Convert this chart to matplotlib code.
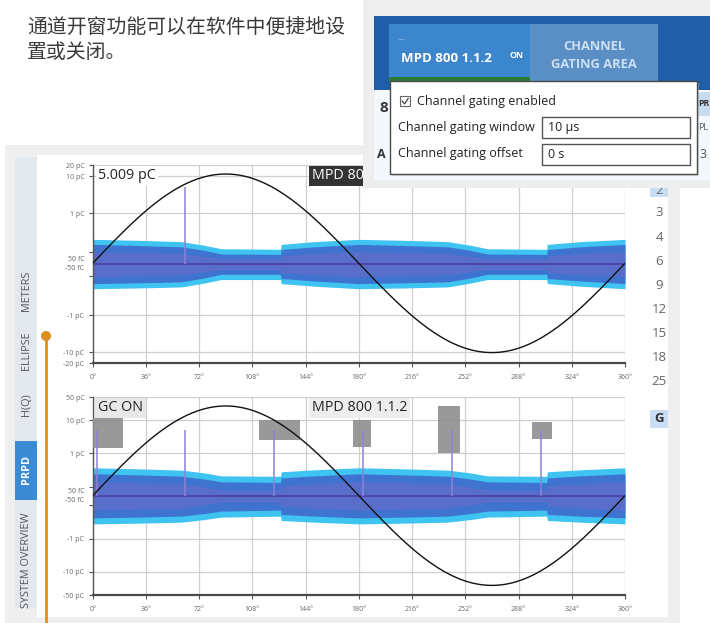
import numpy as np
import matplotlib
matplotlib.use("Agg")
import matplotlib.pyplot as plt
from matplotlib.patches import Rectangle, Circle

W, H = 710, 623

# ---------------- data ----------------
caption_lines = ["通道开窗功能可以在软件中便捷地设", "置或关闭。"]
sidebar_tabs = ["METERS", "ELLIPSE", "H(Q)", "PRPD", "SYSTEM OVERVIEW"]
right_column = ["3", "4", "6", "9", "12", "15", "18", "25"]

phase_ticks = [0, 36, 72, 108, 144, 180, 216, 252, 288, 324, 360]
phase_labels = ["0°", "36°", "72°", "108°", "144°", "180°", "216°", "252°", "288°", "324°", "360°"]

top_yticks = [20, 10, 1, 0.05, -0.05, -1, -10, -20]
top_ylabels = ["20 pC", "10 pC", "1 pC", "50 fC", "-50 fC", "-1 pC", "-10 pC", "-20 pC"]
bot_yticks = [50, 10, 1, 0.05, -0.05, -1, -10, -50]
bot_ylabels = ["50 pC", "10 pC", "1 pC", "50 fC", "-50 fC", "-1 pC", "-10 pC", "-50 pC"]

# noise-band envelopes (pC)
env_phase = [0, 30, 60, 75, 87, 127, 127.5, 150, 180, 210, 240, 255, 267, 307, 307.5, 330, 360]
top_outer_hi = [0.162, 0.150, 0.135, 0.100, 0.071, 0.067, 0.107, 0.135, 0.162, 0.150, 0.135, 0.100, 0.071, 0.067, 0.107, 0.135, 0.162]
top_outer_lo = [-0.159, -0.150, -0.138, -0.100, -0.071, -0.071, -0.104, -0.130, -0.159, -0.150, -0.138, -0.100, -0.071, -0.071, -0.104, -0.130, -0.159]
top_inner_hi = [0.107, 0.097, 0.086, 0.061, 0.039, 0.037, 0.066, 0.086, 0.107, 0.097, 0.086, 0.061, 0.039, 0.037, 0.066, 0.086, 0.107]
top_inner_lo = [-0.104, -0.097, -0.089, -0.061, -0.039, -0.039, -0.064, -0.082, -0.104, -0.097, -0.089, -0.061, -0.039, -0.039, -0.064, -0.082, -0.104]
top_core = [0.051, 0.047, 0.042, 0.028, 0.017, 0.017, 0.030, 0.042, 0.051, 0.047, 0.042, 0.028, 0.017, 0.017, 0.030, 0.042, 0.051]

bot_outer_hi = [0.332, 0.306, 0.275, 0.219, 0.167, 0.160, 0.239, 0.282, 0.332, 0.306, 0.275, 0.219, 0.167, 0.160, 0.239, 0.282, 0.332]
bot_outer_lo = [-0.324, -0.306, -0.282, -0.228, -0.183, -0.167, -0.245, -0.282, -0.324, -0.306, -0.282, -0.228, -0.183, -0.167, -0.245, -0.282, -0.324]
bot_inner_hi = [0.201, 0.183, 0.163, 0.125, 0.092, 0.086, 0.138, 0.167, 0.201, 0.183, 0.163, 0.125, 0.092, 0.086, 0.138, 0.167, 0.201]
bot_inner_lo = [-0.195, -0.183, -0.167, -0.132, -0.102, -0.092, -0.143, -0.167, -0.195, -0.183, -0.167, -0.132, -0.102, -0.092, -0.143, -0.167, -0.195]
bot_core = [0.092, 0.081, 0.072, 0.048, 0.029, 0.029, 0.056, 0.072, 0.092, 0.081, 0.072, 0.048, 0.029, 0.029, 0.056, 0.072, 0.092]

# single PD pulses
top_pulse_phase = [62.6]
top_pulse_q = [5.009]
bot_pulse_phase = [2.7, 62.6, 122.8, 183.0, 242.8, 303.2]
bot_pulse_q = [5.0, 5.0, 5.0, 5.0, 5.0, 5.0]

# channel-gating windows (phase start, phase end, q low, q high)
gate_start = [0.0, 112.7, 175.8, 233.7, 297.1]
gate_end = [20.7, 140.2, 188.3, 248.4, 310.6]
gate_lo = [1.45, 2.56, 1.53, 1.04, 2.74]
gate_hi = [11.8, 10.3, 10.3, 26.9, 8.75]

# reference sine (voltage, normalized)
sine_phase = np.arange(0, 361, 1)
sine_val = np.sin(np.radians(sine_phase))

UI = "Open Sans"
CJK = ["Noto Sans CJK SC", "DejaVu Sans"]

fig = plt.figure(figsize=(W / 100, H / 100), dpi=100)
fig.patch.set_facecolor("white")


def frac(x0, y0, x1, y1):
    return [x0 / W, 1 - y1 / H, (x1 - x0) / W, (y1 - y0) / H]


def px_axes(z):
    a = fig.add_axes([0, 0, 1, 1], zorder=z)
    a.set_xlim(0, W)
    a.set_ylim(H, 0)
    a.axis("off")
    a.patch.set_visible(False)
    return a


# ---------------- background chrome ----------------
bg = px_axes(-5)
bg.text(27, 28, caption_lines[0], family=CJK, fontsize=14.3, color="#3a3a3a", va="center", ha="left")
bg.text(27, 53, caption_lines[1], family=CJK, fontsize=14.3, color="#3a3a3a", va="center", ha="left")

bg.add_patch(Rectangle((5, 145), 675, 478, fc="#efefef", ec="none"))
bg.add_patch(Rectangle((37, 155), 631, 462, fc="white", ec="none"))
bg.add_patch(Rectangle((15, 157), 22, 451, fc="#e3e8ef", ec="none"))
bg.add_patch(Rectangle((15, 441), 22, 59, fc="#3b8bd4", ec="none"))

tab_y = [291, 351, 405, 470, 560]
for lbl, yy in zip(sidebar_tabs, tab_y):
    is_sel = lbl == "PRPD"
    bg.text(26.5, yy, lbl, rotation=90, ha="center", va="center", family=UI,
            fontsize=7.8, color="white" if is_sel else "#555555",
            fontweight="bold" if is_sel else "normal")

# right column
for i, lbl in enumerate(right_column):
    bg.text(659, 213 + i * 24.1, lbl, ha="center", va="center", family=UI, fontsize=9.5, color="#666666")
bg.add_patch(Rectangle((650, 186), 18, 11, fc="#c9def2", ec="none"))
bg.text(659, 191, "2", ha="center", va="center", family=UI, fontsize=9.5, color="#666666")
bg.add_patch(Rectangle((650, 410), 18, 18, fc="#c9def2", ec="none"))
bg.text(659, 419, "G", ha="center", va="center", family=UI, fontsize=9.5, color="#333333", fontweight="bold")

# orange marker line
bg.plot([46, 46], [336, 623], color="#d99020", lw=2, solid_capstyle="butt")
bg.add_patch(Circle((46, 336), 5, fc="#d99020", ec="none"))


# ---------------- PRPD panels ----------------
def make_panel(rect, c, ylim, yticks, ylabels, ohi, olo, ihi, ilo, core, pph, pq, sine_lim):
    ax = fig.add_axes(rect, zorder=0)

    def fwd(q):
        q = np.asarray(q, dtype=float)
        return np.sign(q) * np.log10(1 + np.abs(q) / c)

    def inv(u):
        u = np.asarray(u, dtype=float)
        return np.sign(u) * c * (10 ** np.abs(u) - 1)

    ax.set_yscale("function", functions=(fwd, inv))
    ax.set_xlim(0, 360)
    ax.set_ylim(ylim)
    ax.patch.set_facecolor("white")
    ax.set_xticks(phase_ticks)
    ax.set_xticklabels(phase_labels)
    ax.set_yticks(yticks)
    ax.set_yticklabels(["" if "fC" in l else l for l in ylabels])
    ax.yaxis.set_minor_locator(matplotlib.ticker.NullLocator())
    ax.tick_params(axis="both", labelsize=5, labelcolor="#666666", color="#555555",
                   length=3, width=0.8, pad=3)
    ax.tick_params(axis="x", pad=5)
    for t in ax.get_xticklabels() + ax.get_yticklabels():
        t.set_family(UI)
    for l in ylabels:
        if "fC" in l:
            sgn = -1 if l.startswith("-") else 1
            ax.annotate(l, xy=(0, 0), xycoords=ax.get_yaxis_transform(),
                        xytext=(-6, sgn * 3.4), textcoords="offset points",
                        ha="right", va="center", fontsize=5, color="#666666", family=UI)
    ax.grid(True, color="#cfcfcf", lw=0.9)
    ax.set_axisbelow(True)
    for s in ["top", "right"]:
        ax.spines[s].set_visible(False)
    ax.spines["left"].set_color("#555555")
    ax.spines["left"].set_linewidth(1.0)
    ax.spines["bottom"].set_color("#4a4a4a")
    ax.spines["bottom"].set_linewidth(1.6)

    ax.fill_between(env_phase, olo, ohi, color="#3fc3f0", lw=0, zorder=2)
    ax.fill_between(env_phase, ilo, ihi, color="#3e74cf", lw=0, zorder=2.1)
    ax.fill_between(env_phase, [-v for v in core], core, color="#7a68c4", alpha=0.45, lw=0, zorder=2.2)
    ax.axhline(0, color="#4d3fa3", lw=1.2, zorder=2.3)
    ax.vlines(pph, 0, pq, color="#8c82d6", lw=1.1, zorder=3.5)

    sx = ax.twinx()
    sx.set_ylim(sine_lim)
    sx.axis("off")
    sx.plot(sine_phase, sine_val, color="#111111", lw=1.0)
    return ax, sx


ax1, s1 = make_panel(frac(92.7, 165, 625, 363.3), 0.045, (-20, 20), top_yticks, top_ylabels,
                     top_outer_hi, top_outer_lo, top_inner_hi, top_inner_lo, top_core,
                     top_pulse_phase, top_pulse_q, (-1.120, 1.101))
ax2, s2 = make_panel(frac(92.7, 397, 625, 595), 0.056, (-50, 50), bot_yticks, bot_ylabels,
                     bot_outer_hi, bot_outer_lo, bot_inner_hi, bot_inner_lo, bot_core,
                     bot_pulse_phase, bot_pulse_q, (-1.107, 1.100))

# gating windows
ax2.bar(gate_start, [h - l for h, l in zip(gate_hi, gate_lo)], bottom=gate_lo,
        width=[e - s for s, e in zip(gate_start, gate_end)], align="edge",
        color="#8e8e8e", alpha=0.9, lw=0, zorder=3)

# panel labels
s1.text(0.010, 0.945, "5.009 pC", transform=ax1.transAxes, ha="left", va="center", family=UI,
        fontsize=10.3, color="#222222", zorder=6,
        bbox=dict(boxstyle="square,pad=0.15", fc="white", ec="none"))
s1.text(0.412, 0.945, "MPD 800 1.1.2", transform=ax1.transAxes, ha="left", va="center", family=UI,
        fontsize=10.3, color="white", zorder=6,
        bbox=dict(boxstyle="square,pad=0.2", fc="#333333", ec="none"))
s2.text(0.010, 0.945, "GC ON", transform=ax2.transAxes, ha="left", va="center", family=UI,
        fontsize=10.3, color="#222222", zorder=6,
        bbox=dict(boxstyle="square,pad=0.2", fc="#e6e6e6", ec="none", alpha=0.9))
s2.text(0.412, 0.945, "MPD 800 1.1.2", transform=ax2.transAxes, ha="left", va="center", family=UI,
        fontsize=10.3, color="#222222", zorder=6,
        bbox=dict(boxstyle="square,pad=0.2", fc="#ececec", ec="none", alpha=0.9))

# ---------------- inset (channel gating dialog) ----------------
ov = px_axes(10)
ov.add_patch(Rectangle((363, 0), 347, 188, fc="#eeeeee", ec="none"))
ov.add_patch(Rectangle((374, 90), 336, 90, fc="#f4f7fb", ec="none"))
ov.add_patch(Rectangle((374, 16), 336, 74, fc="#1f5fa7", ec="none"))
ov.add_patch(Rectangle((389, 24), 141, 58, fc="#3c86cd", ec="none"))
ov.add_patch(Rectangle((530, 24), 128, 58, fc="#5a8fc6", ec="none"))
ov.add_patch(Rectangle((389, 77), 141, 5, fc="#2e7b35", ec="none"))
ov.text(399, 39, "....", ha="left", va="center", fontsize=4.5, color="white", family=UI)
ov.text(401, 58, "MPD 800 1.1.2", ha="left", va="center", fontsize=9.5, color="white",
        fontweight="bold", family=UI)
ov.text(509, 55, "ON", ha="left", va="center", fontsize=6.3, color="white", fontweight="bold", family=UI)
ov.text(594, 46, "CHANNEL", ha="center", va="center", fontsize=9.3, color="#cfdff1",
        fontweight="bold", family=UI)
ov.text(594, 65, "GATING AREA", ha="center", va="center", fontsize=9.3, color="#cfdff1",
        fontweight="bold", family=UI)

# partially hidden labels behind the dialog
ov.text(388, 108, "8", ha="right", va="center", fontsize=11, color="#333333",
        fontweight="bold", family=UI)
ov.text(377, 154, "A", ha="left", va="center", fontsize=9, color="#333333", fontweight="bold", family=UI)
ov.add_patch(Rectangle((697, 92), 13, 24, fc="#c9dcef", ec="none"))
ov.text(698.5, 104, "PR", ha="left", va="center", fontsize=6.3, color="#333333", fontweight="bold", family=UI)
ov.text(698.5, 128, "PL", ha="left", va="center", fontsize=6.5, color="#555555", family=UI)
ov.text(700, 155, "3", ha="left", va="center", fontsize=9, color="#555555", family=UI)

# dialog
ov.add_patch(Rectangle((392, 83), 307, 93, fc="#bbbbbb", ec="none", alpha=0.5))
ov.add_patch(Rectangle((390, 81), 307, 93, fc="white", ec="#4a4a4a", lw=1))
ov.add_patch(Rectangle((400, 96), 10, 10, fc="white", ec="#666666", lw=0.8))
ov.plot([402.2, 404.6, 408.2], [101.2, 103.8, 98.4], color="#444444", lw=0.9)
ov.text(417, 101, "Channel gating enabled", ha="left", va="center", fontsize=9, color="#222222", family=UI)
ov.text(398, 127, "Channel gating window", ha="left", va="center", fontsize=9, color="#222222", family=UI)
ov.text(398, 154, "Channel gating offset", ha="left", va="center", fontsize=9, color="#222222", family=UI)
ov.add_patch(Rectangle((542, 117), 148, 21, fc="white", ec="#555555", lw=1))
ov.add_patch(Rectangle((542, 144), 148, 21, fc="white", ec="#555555", lw=1))
ov.text(548, 127.5, "10 µs", ha="left", va="center", fontsize=9, color="#222222", family=UI)
ov.text(548, 154.5, "0 s", ha="left", va="center", fontsize=9, color="#222222", family=UI)

fig.savefig("out.png", dpi=100, facecolor="white")
